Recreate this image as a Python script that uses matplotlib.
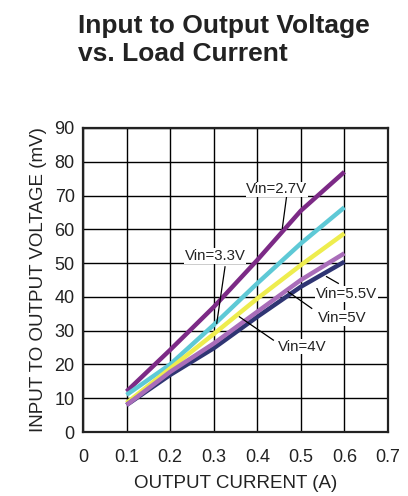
import numpy as np
import matplotlib.pyplot as plt

plt.rcParams['font.family'] = ['Liberation Sans', 'DejaVu Sans']

# output current (A)
current = [0.1, 0.2, 0.3, 0.4, 0.5, 0.6]

# input to output voltage (mV) for each input voltage
v27 = [12.0, 24.3, 37.0, 50.9, 65.5, 77.0]
v33 = [11.0, 20.0, 31.7, 44.0, 55.8, 66.5]
v40 = [8.6, 18.8, 29.0, 39.5, 49.4, 58.8]
v55 = [8.0, 17.8, 26.2, 35.6, 45.0, 52.9]
v50 = [8.0, 16.9, 24.8, 34.1, 43.0, 50.4]

series = [
    (v27, '#7c2a86'),
    (v33, '#5ec9d6'),
    (v40, '#eeed4e'),
    (v50, '#2f3573'),
    (v55, '#a96db9'),
]

# label text, text position, leader start, leader end
labels = [
    ('Vin=2.7V', (0.445, 71.8), (0.4675, 69.9), (0.4575, 60.3)),
    ('Vin=3.3V', (0.303, 52.1), (0.326, 48.9), (0.307, 32.2)),
    ('Vin=4V', (0.504, 25.3), (0.437, 27.2), (0.359, 34.1)),
    ('Vin=5V', (0.594, 33.7), (0.525, 36.6), (0.471, 41.5)),
    ('Vin=5.5V', (0.605, 40.9), (0.586, 44.0), (0.559, 46.0)),
]

fig = plt.figure(figsize=(4.08, 4.96), dpi=100)
ax = fig.add_axes([0.2034, 0.129, 0.7475, 0.613])

for vals, col in series:
    ax.plot(current, vals, color=col, lw=3.2, solid_capstyle='butt', zorder=3)

for txt, pos, p0, p1 in labels:
    ax.plot([p0[0], p1[0]], [p0[1], p1[1]], color='black', lw=0.9, zorder=4)
    ax.text(pos[0], pos[1], txt, fontsize=10.8, ha='center', va='center', zorder=5,
            color='#222222', bbox=dict(facecolor='white', edgecolor='none', pad=0.5))

ax.set_xlim(0, 0.7)
ax.set_ylim(0, 90)
ax.set_xticks(np.arange(0, 0.71, 0.1))
ax.set_xticklabels(['0', '0.1', '0.2', '0.3', '0.4', '0.5', '0.6', '0.7'])
ax.set_yticks(np.arange(0, 91, 10))
ax.grid(True, color='black', lw=1.0)
ax.tick_params(length=0, labelsize=13, colors='#222222')
ax.tick_params(axis='x', pad=12)
ax.tick_params(axis='y', pad=6)
for s in ax.spines.values():
    s.set_linewidth(1.6)
    s.set_color('#222222')

ax.set_xlabel('OUTPUT CURRENT (A)', fontsize=13.5, color='#222222', labelpad=7)
ax.set_ylabel('INPUT TO OUTPUT VOLTAGE (mV)', fontsize=13.5, color='#222222', labelpad=5)

fig.text(0.191, 0.92, 'Input to Output Voltage\nvs. Load Current', fontsize=19,
         fontweight='bold', color='#222222', ha='left', va='center', linespacing=1.2)

fig.savefig('out.png', dpi=100)
